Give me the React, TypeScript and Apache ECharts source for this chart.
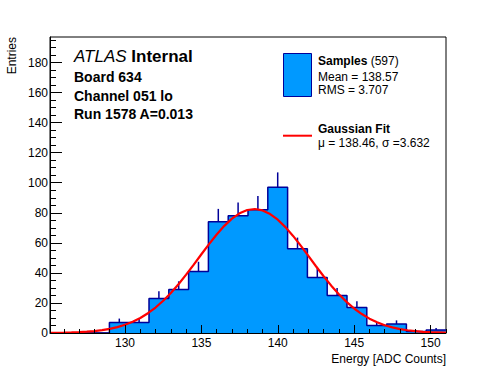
import React, { useEffect, useRef } from "react";
import * as echarts from "echarts";

const FONT = "'Liberation Sans', Arial, Helvetica, sans-serif";

// Histogram binning (20 bins)
const xMin = 125.09;
const xMax = 151.01;
const binWidth = 1.296;
const yMax = 197;

// Bin contents
const counts = [0, 0, 0, 7, 7, 23, 29, 41, 74, 78, 82, 97, 56, 37, 25, 17, 5, 6, 1, 2];
// Upper error bar lengths
const errors = [0, 0, 0, 2.6, 2.6, 4.8, 5.4, 6.4, 8.6, 8.8, 9.1, 9.9, 7.5, 6.1, 5.0, 4.1, 2.2, 2.4, 1.0, 1.4];

// Gaussian fit curve
const fitX = [125.09, 126, 126.5, 127, 127.5, 128, 128.5, 129, 129.5, 130, 130.5, 131, 131.5, 132, 132.5, 133, 133.5, 134, 134.5, 135, 135.5, 136, 136.5, 137, 137.5, 138, 138.5, 139, 139.5, 140, 140.5, 141, 141.5, 142, 142.5, 143, 143.5, 144, 144.5, 145, 145.5, 146, 146.5, 147, 147.5, 148, 148.5, 149, 149.5, 150, 151.01];
const fitY = [0.09, 0.23, 0.36, 0.57, 0.87, 1.3, 1.92, 2.78, 3.94, 5.47, 7.47, 10.01, 13.15, 16.96, 21.46, 26.65, 32.47, 38.81, 45.53, 52.41, 59.19, 65.59, 71.32, 76.1, 79.67, 81.84, 82.5, 81.59, 79.19, 75.41, 70.46, 64.61, 58.12, 51.31, 44.44, 37.77, 31.5, 25.78, 20.7, 16.31, 12.61, 9.56, 7.12, 5.2, 3.72, 2.62, 1.81, 1.22, 0.81, 0.53, 0.21];

const xMajorTicks = [130, 135, 140, 145, 150];
const xMinorTicks = [126, 127, 128, 129, 131, 132, 133, 134, 136, 137, 138, 139, 141, 142, 143, 144, 146, 147, 148, 149, 151];
const yMajorTicks = [0, 20, 40, 60, 80, 100, 120, 140, 160, 180];
const yMinorTicks = [5, 10, 15, 25, 30, 35, 45, 50, 55, 65, 70, 75, 85, 90, 95, 105, 110, 115, 125, 130, 135, 145, 150, 155, 165, 170, 175, 185, 190, 195];

const FILL = "#0099ff";
const EDGE = "#000099";

export default function App() {
  const ref = useRef<HTMLDivElement>(null);

  useEffect(() => {
    if (!ref.current) return;
    const chart = echarts.init(ref.current, null, { renderer: "svg" });

    const histLine: number[][] = counts.map((c, i) => [xMin + i * binWidth, c]);
    histLine.push([xMax, counts[counts.length - 1]]);
    const errData = counts
      .map((c, i) => [xMin + (i + 0.5) * binWidth, c, errors[i]])
      .filter((d) => d[1] > 0);
    const fitData = fitX.map((x, i) => [x, fitY[i]]);

    const baseAxis = {
      type: "value" as const,
      splitLine: { show: false },
      z: 10,
    };

    chart.setOption({
      animation: false,
      backgroundColor: "#ffffff",
      grid: {
        left: 50,
        top: 37,
        width: 396,
        height: 296,
        show: true,
        borderColor: "#000",
        borderWidth: 1,
        backgroundColor: "transparent",
      },
      xAxis: [
        {
          ...baseAxis,
          min: xMin,
          max: xMax,
          position: "bottom",
          axisLine: { show: true, onZero: false, lineStyle: { color: "#000", width: 1 } },
          axisTick: { show: true, inside: true, length: 8, customValues: xMajorTicks, lineStyle: { color: "#000", width: 1 } },
          axisLabel: { show: true, customValues: xMajorTicks, color: "#000", fontSize: 12, lineHeight: 12, fontFamily: FONT, margin: 4 },
        },
        {
          ...baseAxis,
          min: xMin,
          max: xMax,
          position: "bottom",
          axisLine: { show: false },
          axisTick: { show: true, inside: true, length: 4, customValues: xMinorTicks, lineStyle: { color: "#000", width: 1 } },
          axisLabel: { show: false },
        },
      ],
      yAxis: [
        {
          ...baseAxis,
          min: 0,
          max: yMax,
          position: "left",
          axisLine: { show: true, onZero: false, lineStyle: { color: "#000", width: 1 } },
          axisTick: { show: true, inside: true, length: 12, customValues: yMajorTicks, lineStyle: { color: "#000", width: 1 } },
          axisLabel: { show: true, customValues: yMajorTicks, color: "#000", fontSize: 12, fontFamily: FONT, margin: 2 },
        },
        {
          ...baseAxis,
          min: 0,
          max: yMax,
          position: "left",
          axisLine: { show: false },
          axisTick: { show: true, inside: true, length: 6, customValues: yMinorTicks, lineStyle: { color: "#000", width: 1 } },
          axisLabel: { show: false },
        },
      ],
      series: [
        {
          name: "Samples",
          type: "line",
          step: "end",
          data: histLine,
          symbol: "none",
          lineStyle: { color: EDGE, width: 1.5 },
          areaStyle: { color: FILL, opacity: 1 },
          z: 2,
        },
        {
          name: "Errors",
          type: "custom",
          data: errData,
          z: 3,
          renderItem: (_params: any, api: any) => {
            const x = api.value(0);
            const y = api.value(1);
            const e = api.value(2);
            const p0 = api.coord([x, y]);
            const p1 = api.coord([x, y + e]);
            return {
              type: "line",
              shape: { x1: p0[0], y1: p0[1], x2: p1[0], y2: p1[1] },
              style: { stroke: EDGE, lineWidth: 1.5 },
            };
          },
        },
        {
          name: "Gaussian Fit",
          type: "line",
          data: fitData,
          symbol: "none",
          smooth: false,
          lineStyle: { color: "#ff0000", width: 2.2 },
          z: 4,
        },
      ],
      graphic: [
        {
          type: "text",
          x: 74,
          y: 56.5,
          style: {
            text: "{a|ATLAS} {b|Internal}",
            fontSize: 17,
            fontFamily: FONT,
            verticalAlign: "middle",
            fill: "#000",
            rich: {
              a: { fontStyle: "italic", fontSize: 17, fontFamily: FONT, fill: "#000" },
              b: { fontWeight: "bold", fontSize: 17, fontFamily: FONT, fill: "#000" },
            },
          },
        },
        {
          type: "text",
          x: 74,
          y: 76.7,
          style: { text: "Board 634", fontSize: 14, fontWeight: "bold", fontFamily: FONT, verticalAlign: "middle", fill: "#000" },
        },
        {
          type: "text",
          x: 74,
          y: 95.7,
          style: { text: "Channel 051 lo", fontSize: 14, fontWeight: "bold", fontFamily: FONT, verticalAlign: "middle", fill: "#000" },
        },
        {
          type: "text",
          x: 74,
          y: 114.3,
          style: { text: "Run 1578 A=0.013", fontSize: 14, fontWeight: "bold", fontFamily: FONT, verticalAlign: "middle", fill: "#000" },
        },
        {
          type: "rect",
          shape: { x: 283.5, y: 53.5, width: 28, height: 43 },
          style: { fill: FILL, stroke: EDGE, lineWidth: 1 },
        },
        {
          type: "text",
          x: 318,
          y: 61.3,
          style: {
            text: "{b|Samples} {r|(597)}",
            fontSize: 12,
            fontFamily: FONT,
            verticalAlign: "middle",
            fill: "#000",
            rich: {
              b: { fontWeight: "bold", fontSize: 12, fontFamily: FONT, fill: "#000" },
              r: { fontSize: 12, fontFamily: FONT, fill: "#000" },
            },
          },
        },
        {
          type: "text",
          x: 318,
          y: 76.5,
          style: { text: "Mean = 138.57", fontSize: 12, fontFamily: FONT, verticalAlign: "middle", fill: "#000" },
        },
        {
          type: "text",
          x: 318,
          y: 89.8,
          style: { text: "RMS = 3.707", fontSize: 12, fontFamily: FONT, verticalAlign: "middle", fill: "#000" },
        },
        {
          type: "line",
          shape: { x1: 283, y1: 135.7, x2: 312, y2: 135.7 },
          style: { stroke: "#ff0000", lineWidth: 2 },
        },
        {
          type: "text",
          x: 318,
          y: 129.2,
          style: { text: "Gaussian Fit", fontSize: 12, fontWeight: "bold", fontFamily: FONT, verticalAlign: "middle", fill: "#000" },
        },
        {
          type: "text",
          x: 318,
          y: 143.2,
          style: { text: "μ = 138.46, σ =3.632", fontSize: 12, fontFamily: FONT, verticalAlign: "middle", fill: "#000" },
        },
        {
          type: "text",
          x: 12,
          y: 37,
          rotation: Math.PI / 2,
          style: { text: "Entries", fontSize: 12, fontFamily: FONT, align: "right", verticalAlign: "middle", fill: "#000" },
        },
        {
          type: "text",
          x: 446,
          y: 358.5,
          style: { text: "Energy [ADC Counts]", fontSize: 12, lineHeight: 12, fontFamily: FONT, align: "right", verticalAlign: "middle", fill: "#000" },
        },
      ],
    });

    return () => {
      chart.dispose();
    };
  }, []);

  return (
    <div
      ref={ref}
      style={{ position: "absolute", left: 0, top: 0, width: 496, height: 372, background: "#fff" }}
    />
  );
}
